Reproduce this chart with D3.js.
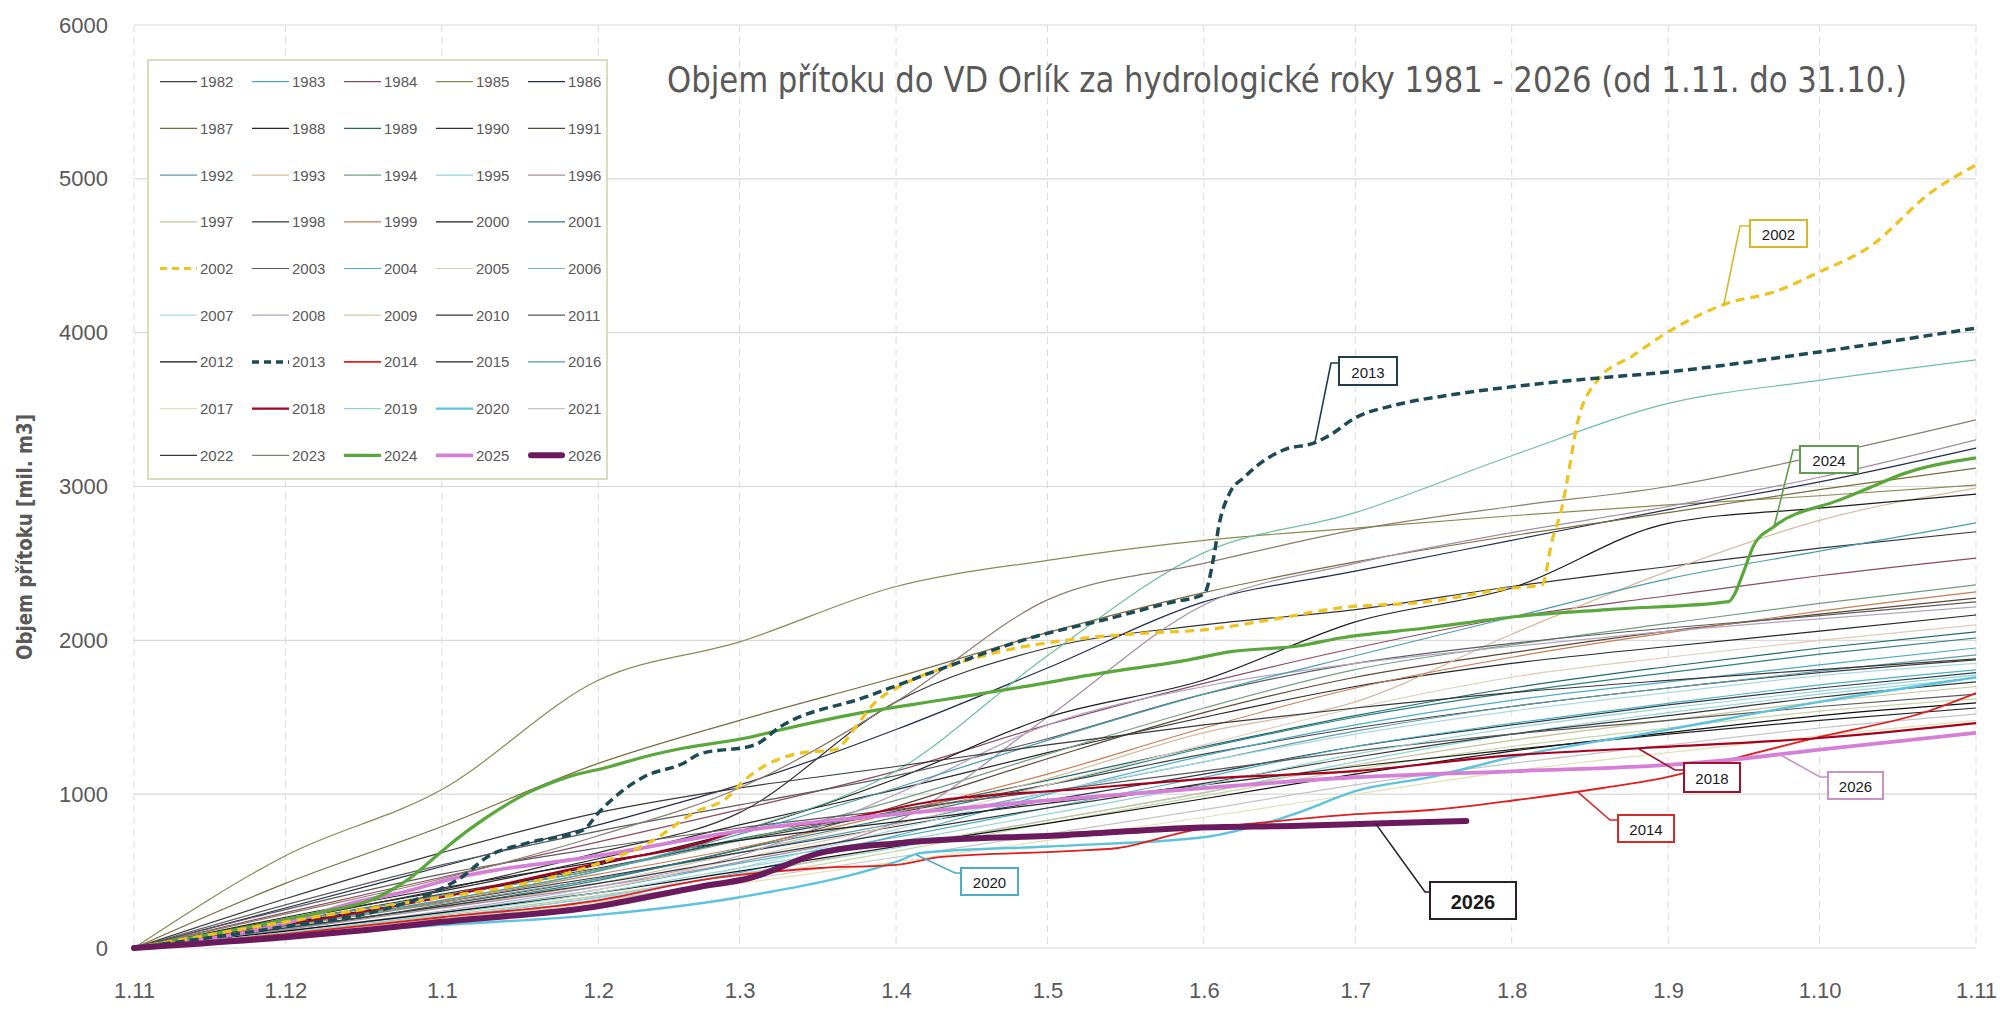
<!DOCTYPE html>
<html>
<head>
<meta charset="utf-8">
<script src="https://cdn.jsdelivr.net/npm/d3@7"></script>
<style>
  body { margin: 0; background: #ffffff; }
  svg { display: block; }
</style>
</head>
<body>
<svg id="orlik-chart"></svg>
<script>
/*--------------------------------------------------------------------------------
----- DATA (cumulative inflow in mil. m3, hydrological year 1.11. - 31.10.)
--------------------------------------------------------------------------------*/

// First day of every month of the hydrological year, and their axis labels
const month_starts = ["2000-11-01", "2000-12-01", "2001-01-01", "2001-02-01", "2001-03-01", "2001-04-01",
    "2001-05-01", "2001-06-01", "2001-07-01", "2001-08-01", "2001-09-01", "2001-10-01", "2001-11-01"];
const month_labels = ["1.11", "1.12", "1.1", "1.2", "1.3", "1.4", "1.5", "1.6", "1.7", "1.8", "1.9", "1.10", "1.11"];
const y_ticks = [0, 1000, 2000, 3000, 4000, 5000, 6000];

// Background years, one value per month start
const v1982 = [0, 170, 350, 520, 700, 880, 1060, 1260, 1430, 1570, 1690, 1790, 1873];
const v1983 = [0, 90, 200, 330, 490, 730, 1000, 1250, 1450, 1610, 1730, 1840, 1950];
const v1984 = [0, 230, 460, 690, 900, 1150, 1450, 1720, 1950, 2150, 2290, 2420, 2535];
const v1985 = [0, 600, 1030, 1740, 1990, 2350, 2520, 2650, 2730, 2810, 2880, 2940, 3010];
const v1986 = [0, 260, 530, 800, 1060, 1420, 1820, 2250, 2450, 2650, 2850, 3030, 3250];
const v1987 = [0, 420, 790, 1200, 1480, 1760, 2050, 2310, 2510, 2680, 2830, 2980, 3120];
const v1988 = [0, 190, 370, 580, 800, 1030, 1270, 1500, 1700, 1850, 1960, 2060, 2165];
const v1989 = [0, 170, 340, 510, 710, 890, 1090, 1310, 1510, 1690, 1830, 1950, 2055];
const v1990 = [0, 180, 380, 620, 880, 1600, 1950, 2100, 2200, 2350, 2480, 2600, 2706];
const v1991 = [0, 120, 280, 450, 640, 920, 1230, 1530, 1760, 1920, 2060, 2170, 2275];
const v1992 = [0, 140, 290, 450, 620, 810, 1010, 1210, 1410, 1570, 1690, 1800, 1905];
const v1993 = [0, 120, 260, 420, 620, 850, 1100, 1400, 1600, 2040, 2450, 2780, 2990];
const v1994 = [0, 170, 340, 510, 700, 960, 1260, 1560, 1810, 1970, 2110, 2240, 2360];
const v1995 = [0, 90, 200, 330, 480, 650, 830, 1010, 1210, 1390, 1530, 1650, 1755];
const v1996 = [0, 120, 260, 400, 560, 820, 1500, 2230, 2500, 2700, 2870, 3060, 3303];
const v1997 = [0, 100, 210, 340, 480, 660, 830, 1010, 1190, 1350, 1480, 1600, 1700];
const v1998 = [0, 150, 300, 460, 620, 790, 960, 1130, 1310, 1450, 1580, 1690, 1790];
const v1999 = [0, 140, 300, 480, 650, 880, 1130, 1430, 1690, 1890, 2050, 2190, 2315];
const v2000 = [0, 160, 330, 540, 760, 1100, 1500, 1742, 2120, 2340, 2760, 2860, 2950];
const v2001 = [0, 130, 270, 440, 640, 850, 1060, 1300, 1500, 1660, 1790, 1910, 2015];
const v2003 = [0, 280, 540, 760, 930, 1120, 1360, 1650, 1850, 1980, 2080, 2160, 2250];
const v2004 = [0, 110, 230, 380, 550, 720, 910, 1110, 1310, 1460, 1590, 1710, 1808];
const v2005 = [0, 100, 220, 380, 580, 800, 1060, 1320, 1560, 1760, 1890, 2000, 2100];
const v2006 = [0, 140, 310, 500, 760, 1150, 1900, 2570, 2830, 3200, 3540, 3690, 3823];
const v2007 = [0, 80, 180, 320, 520, 770, 1010, 1210, 1390, 1540, 1660, 1770, 1850];
const v2008 = [0, 110, 240, 400, 600, 1000, 1450, 1700, 1850, 1960, 2060, 2140, 2217];
const v2009 = [0, 80, 180, 300, 450, 630, 810, 990, 1160, 1310, 1430, 1540, 1620];
const v2010 = [0, 130, 270, 420, 580, 750, 910, 1070, 1240, 1390, 1510, 1630, 1730];
const v2011 = [0, 250, 480, 650, 780, 900, 1020, 1150, 1280, 1390, 1480, 1570, 1650];
const v2012 = [0, 110, 230, 360, 500, 660, 810, 970, 1130, 1280, 1400, 1510, 1593];
const v2015 = [0, 200, 390, 560, 700, 820, 940, 1060, 1180, 1290, 1390, 1480, 1560];
const v2016 = [0, 150, 310, 500, 740, 1040, 1350, 1650, 1900, 2150, 2400, 2580, 2763];
const v2017 = [0, 90, 190, 300, 420, 560, 700, 850, 1000, 1150, 1270, 1380, 1480];
const v2019 = [0, 100, 220, 360, 520, 690, 870, 1060, 1260, 1430, 1560, 1670, 1775];
const v2021 = [0, 90, 190, 310, 440, 590, 740, 900, 1060, 1200, 1320, 1430, 1520];
const v2022 = [0, 320, 620, 880, 1040, 1180, 1320, 1450, 1560, 1660, 1740, 1810, 1880];
const v2023 = [0, 220, 450, 730, 1040, 1600, 2263, 2500, 2718, 2870, 3000, 3200, 3433];

// Highlighted years, read at their own dates
const v2002 = [["2000-11-01", 0], ["2000-12-01", 170], ["2001-01-01", 330], ["2001-01-14", 397], ["2001-01-26", 488],
    ["2001-02-03", 572], ["2001-02-11", 683], ["2001-02-20", 880], ["2001-02-27", 990], ["2001-03-01", 1060],
    ["2001-03-13", 1267], ["2001-03-20", 1290], ["2001-03-24", 1437], ["2001-03-27", 1567], ["2001-04-03", 1723],
    ["2001-04-11", 1827], ["2001-04-23", 1937], ["2001-05-05", 2002], ["2001-05-21", 2048], ["2001-06-01", 2068],
    ["2001-06-14", 2133], ["2001-06-28", 2211], ["2001-07-15", 2250], ["2001-08-01", 2340], ["2001-08-07", 2360],
    ["2001-08-09", 2650], ["2001-08-11", 2870], ["2001-08-12", 3040], ["2001-08-14", 3410], ["2001-08-18", 3690],
    ["2001-08-25", 3850], ["2001-09-01", 4005], ["2001-09-13", 4194], ["2001-09-22", 4265], ["2001-10-01", 4395],
    ["2001-10-11", 4560], ["2001-10-23", 4910], ["2001-11-01", 5090]];
const v2013 = [["2000-11-01", 0], ["2000-12-01", 140], ["2000-12-20", 247], ["2000-12-30", 357], ["2001-01-05", 462],
    ["2001-01-10", 592], ["2001-01-18", 683], ["2001-01-29", 767], ["2001-02-01", 878], ["2001-02-06", 1027],
    ["2001-02-10", 1112], ["2001-02-18", 1203], ["2001-02-21", 1260], ["2001-03-04", 1320], ["2001-03-09", 1437],
    ["2001-03-26", 1632], ["2001-04-11", 1827], ["2001-04-27", 2010], ["2001-05-13", 2140], ["2001-05-25", 2243],
    ["2001-06-01", 2300], ["2001-06-03", 2550], ["2001-06-04", 2750], ["2001-06-06", 2950], ["2001-06-09", 3060],
    ["2001-06-13", 3170], ["2001-06-17", 3240], ["2001-06-23", 3285], ["2001-06-26", 3335], ["2001-07-01", 3446],
    ["2001-07-09", 3530], ["2001-07-20", 3596], ["2001-08-01", 3648], ["2001-08-14", 3693], ["2001-09-01", 3745],
    ["2001-10-01", 3875], ["2001-11-01", 4030]];
const v2014 = [["2000-11-01", 0], ["2000-12-01", 90], ["2001-01-01", 200], ["2001-02-01", 310], ["2001-02-21", 440],
    ["2001-03-17", 520], ["2001-04-01", 540], ["2001-04-10", 592], ["2001-05-05", 630], ["2001-05-15", 650],
    ["2001-05-29", 760], ["2001-06-14", 820], ["2001-07-01", 870], ["2001-07-16", 897], ["2001-08-02", 962],
    ["2001-08-19", 1040], ["2001-09-01", 1112], ["2001-09-13", 1222], ["2001-10-01", 1372], ["2001-10-22", 1534],
    ["2001-11-01", 1657]];
const v2018 = [["2000-11-01", 0], ["2000-12-01", 150], ["2001-01-01", 330], ["2001-02-01", 550], ["2001-02-21", 680],
    ["2001-03-01", 760], ["2001-03-17", 813], ["2001-04-10", 962], ["2001-05-05", 1027], ["2001-06-01", 1100],
    ["2001-07-01", 1150], ["2001-08-02", 1255], ["2001-08-27", 1300], ["2001-10-01", 1365], ["2001-11-01", 1462]];
const v2020 = [["2000-11-01", 0], ["2000-12-01", 80], ["2001-01-01", 150], ["2001-02-01", 215], ["2001-03-01", 330],
    ["2001-04-01", 560], ["2001-04-06", 618], ["2001-05-01", 660], ["2001-06-01", 720], ["2001-06-15", 830],
    ["2001-06-20", 884], ["2001-07-01", 1020], ["2001-07-16", 1112], ["2001-08-01", 1240], ["2001-09-01", 1420],
    ["2001-10-01", 1600], ["2001-11-01", 1760]];
const v2024 = [["2000-11-01", 0], ["2000-11-24", 137], ["2000-12-10", 247], ["2000-12-18", 312], ["2000-12-22", 377],
    ["2000-12-26", 462], ["2000-12-30", 572], ["2001-01-02", 657], ["2001-01-10", 852], ["2001-01-18", 1008],
    ["2001-01-26", 1112], ["2001-02-03", 1177], ["2001-02-10", 1242], ["2001-02-18", 1300], ["2001-03-03", 1370],
    ["2001-03-09", 1417], ["2001-03-25", 1528], ["2001-04-10", 1612], ["2001-04-26", 1697], ["2001-05-12", 1788],
    ["2001-05-29", 1873], ["2001-06-06", 1925], ["2001-06-20", 1965], ["2001-06-28", 2015], ["2001-07-15", 2080],
    ["2001-08-02", 2155], ["2001-08-20", 2200], ["2001-09-13", 2252], ["2001-09-14", 2290], ["2001-09-16", 2450],
    ["2001-09-18", 2620], ["2001-09-22", 2740], ["2001-10-05", 2913], ["2001-10-10", 2980], ["2001-10-18", 3087],
    ["2001-11-01", 3186]];
const v2025 = [["2000-11-01", 0], ["2000-12-01", 160], ["2000-12-14", 290], ["2000-12-26", 377], ["2001-01-02", 442],
    ["2001-02-01", 600], ["2001-03-01", 760], ["2001-04-01", 870], ["2001-05-01", 960], ["2001-06-01", 1040],
    ["2001-07-01", 1110], ["2001-08-02", 1150], ["2001-09-01", 1190], ["2001-09-13", 1222], ["2001-10-01", 1290],
    ["2001-11-01", 1398]];
const v2026 = [["2000-11-01", 0], ["2000-12-01", 70], ["2000-12-17", 117], ["2001-01-01", 170], ["2001-01-31", 267],
    ["2001-02-21", 397], ["2001-03-03", 455], ["2001-03-17", 618], ["2001-04-02", 683], ["2001-05-05", 735],
    ["2001-05-29", 780], ["2001-06-20", 795], ["2001-07-05", 810], ["2001-07-23", 826]];

// Legend years (1982 - 2026) and callout texts
const legend_years = d3.range(1982, 2027);
const callout_texts = ["2002", "2013", "2024", "2018", "2026", "2014", "2020", "2026"];
const callout_years = [2002, 2013, 2024, 2018, 2025, 2014, 2020, 2026];
const callout_dates = ["2001-09-12", "2001-06-23", "2001-09-22", "2001-08-26", "2001-09-23", "2001-08-14", "2001-04-05", "2001-07-05"];

/*--------------------------------------------------------------------------------
----- STYLES
--------------------------------------------------------------------------------*/

const year_colors = {
    1982: "#404040", 1983: "#4bacc6", 1984: "#8b4a62", 1985: "#8a8a50", 1986: "#1f2d4d",
    1987: "#7b6a3c", 1988: "#262626", 1989: "#1e6a6a", 1990: "#333333", 1991: "#5a4632",
    1992: "#5f9ea8", 1993: "#d9b99b", 1994: "#6f9f80", 1995: "#8fd4dc", 1996: "#a58ca5",
    1997: "#c4c49a", 1998: "#2b3b4b", 1999: "#c87c52", 2000: "#1a1a1a", 2001: "#2a7f7f",
    2002: "#f0c21e", 2003: "#5c5c5c", 2004: "#4cb3c4", 2005: "#e3cbb5", 2006: "#6cc19e",
    2007: "#a9d9e6", 2008: "#b3a3c3", 2009: "#c3d9a3", 2010: "#363636", 2011: "#595959",
    2012: "#111111", 2013: "#1c4a55", 2014: "#e01e1e", 2015: "#222222", 2016: "#4a9bb2",
    2017: "#e2e2b4", 2018: "#a8001e", 2019: "#93d3d3", 2020: "#5cc3dd", 2021: "#c4c4c4",
    2022: "#383838", 2023: "#8d7b6b", 2024: "#5aa83c", 2025: "#d67fd6", 2026: "#6b1a5e"
};
const year_widths = { 2002: 3.2, 2013: 3.5, 2014: 1.8, 2018: 2.2, 2020: 2.4, 2024: 3.2, 2025: 3.8, 2026: 6 };
const year_dashes = { 2002: "9,6", 2013: "9,5" };
const callout_borders = ["#d6b82a", "#1e3f4a", "#5f9e4a", "#a0122a", "#c993c9", "#d42a2a", "#4bacc6", "#2b1f2b"];

/*--------------------------------------------------------------------------------
----- CHART
--------------------------------------------------------------------------------*/

const chart_width = 2000, chart_height = 1014;
const plot = { left: 134, right: 1976, top: 25, bottom: 948 };
const parse_date = d3.timeParse("%Y-%m-%d");
const text_gray = "#595959";

const svg = d3.select("#orlik-chart")
    .attr("width", chart_width)
    .attr("height", chart_height);

const x_scale = d3.scaleTime()
    .domain([parse_date(month_starts[0]), parse_date(month_starts[month_starts.length - 1])])
    .range([plot.left, plot.right]);
const y_scale = d3.scaleLinear()
    .domain([0, 6000])
    .range([plot.bottom, plot.top]);

// Horizontal solid gridlines
svg.append("g").selectAll("line")
    .data(y_ticks)
    .join("line")
    .attr("x1", plot.left).attr("x2", plot.right)
    .attr("y1", d => y_scale(d)).attr("y2", d => y_scale(d))
    .attr("stroke", "#d9d9d9").attr("stroke-width", 1.2);

// Vertical dashed gridlines at each month start
svg.append("g").selectAll("line")
    .data(month_starts)
    .join("line")
    .attr("x1", d => x_scale(parse_date(d))).attr("x2", d => x_scale(parse_date(d)))
    .attr("y1", plot.top).attr("y2", plot.bottom)
    .attr("stroke", "#dadada").attr("stroke-width", 1).attr("stroke-dasharray", "7,5");

// Y axis tick labels
const y_axis = svg.append("g")
    .attr("transform", `translate(${plot.left}, 0)`)
    .call(d3.axisLeft(y_scale).tickValues(y_ticks).tickSize(0).tickPadding(26).tickFormat(d3.format("d")));
y_axis.select(".domain").remove();
y_axis.selectAll("text")
    .style("font-family", "'Liberation Sans', Arial, sans-serif")
    .style("font-size", "22px")
    .attr("fill", text_gray);

// X axis tick labels (1.11 ... 1.11)
const x_axis = svg.append("g")
    .attr("transform", `translate(0, ${plot.bottom})`)
    .call(d3.axisBottom(x_scale)
        .tickValues(month_starts.map(parse_date))
        .tickSize(0).tickPadding(34)
        .tickFormat((d, i) => month_labels[i]));
x_axis.select(".domain").remove();
x_axis.selectAll("text")
    .style("font-family", "'Liberation Sans', Arial, sans-serif")
    .style("font-size", "22px")
    .attr("fill", text_gray);

// Y axis title
svg.append("text")
    .attr("transform", "translate(25, 537) rotate(-90)")
    .attr("text-anchor", "middle")
    .attr("dominant-baseline", "central")
    .attr("textLength", 246)
    .attr("lengthAdjust", "spacingAndGlyphs")
    .style("font-family", "'Liberation Sans Narrow', 'DejaVu Sans Condensed', Arial, sans-serif")
    .style("font-weight", "bold")
    .style("font-size", "21px")
    .attr("fill", text_gray)
    .text("Objem přítoku [mil. m3]");

// Chart title
svg.append("text")
    .attr("x", 667).attr("y", 92)
    .attr("textLength", 1240)
    .attr("lengthAdjust", "spacingAndGlyphs")
    .style("font-family", "'Liberation Sans Narrow', 'DejaVu Sans Condensed', Arial, sans-serif")
    .style("font-size", "36px")
    .attr("fill", text_gray)
    .text("Objem přítoku do VD Orlík za hydrologické roky 1981 - 2026 (od 1.11. do 31.10.)");

// Build the series table from the small arrays
const monthly_years = [1982, 1983, 1984, 1985, 1986, 1987, 1988, 1989, 1990, 1991, 1992, 1993, 1994, 1995,
    1996, 1997, 1998, 1999, 2000, 2001, 2003, 2004, 2005, 2006, 2007, 2008, 2009, 2010, 2011, 2012, 2015,
    2016, 2017, 2019, 2021, 2022, 2023];
const monthly_values = [v1982, v1983, v1984, v1985, v1986, v1987, v1988, v1989, v1990, v1991, v1992, v1993,
    v1994, v1995, v1996, v1997, v1998, v1999, v2000, v2001, v2003, v2004, v2005, v2006, v2007, v2008, v2009,
    v2010, v2011, v2012, v2015, v2016, v2017, v2019, v2021, v2022, v2023];
const background_series = monthly_years.map((year, i) => ({
    year: year,
    points: monthly_values[i].map((v, j) => ({ date: parse_date(month_starts[j]), value: v }))
}));

const highlight_years = [2020, 2014, 2018, 2025, 2024, 2002, 2013, 2026];
const highlight_values = [v2020, v2014, v2018, v2025, v2024, v2002, v2013, v2026];
const highlight_series = highlight_years.map((year, i) => ({
    year: year,
    points: highlight_values[i].map(p => ({ date: parse_date(p[0]), value: p[1] }))
}));

const all_series = background_series.concat(highlight_series);
const series_by_year = new Map(all_series.map(s => [s.year, s]));

// Line generator
const line_gen = d3.line()
    .x(d => x_scale(d.date))
    .y(d => y_scale(d.value))
    .curve(d3.curveMonotoneX);

// Draw every year line
svg.append("g").selectAll("path")
    .data(all_series)
    .join("path")
    .attr("d", d => line_gen(d.points))
    .attr("fill", "none")
    .attr("stroke", d => year_colors[d.year])
    .attr("stroke-width", d => year_widths[d.year] || 1.2)
    .attr("stroke-dasharray", d => year_dashes[d.year] || null)
    .attr("stroke-linecap", d => d.year === 2026 ? "round" : "butt")
    .attr("stroke-linejoin", "round");

// Value of a series at a date (linear between read points)
function value_at(series, date) {
    const pts = series.points;
    for (let i = 1; i < pts.length; i++) {
        if (date <= pts[i].date) {
            const t = (date - pts[i - 1].date) / (pts[i].date - pts[i - 1].date);
            return pts[i - 1].value + t * (pts[i].value - pts[i - 1].value);
        }
    }
    return pts[pts.length - 1].value;
}

// Callout boxes: [box x, box y, box w, box h, elbow x, elbow y]
const callout_layout = [
    [1750, 220, 57, 27, 1740, 226],
    [1339, 357, 58, 28, 1331, 363],
    [1800, 446, 58, 27, 1793, 450],
    [1684, 763, 56, 29, 1675, 770],
    [1828, 772, 55, 27, 1820, 777],
    [1618, 815, 56, 27, 1610, 820],
    [961, 868, 57, 27, 955, 873],
    [1430, 882, 86, 37, 1425, 892]
];

callout_texts.forEach((label, i) => {
    const series = series_by_year.get(callout_years[i]);
    const date = parse_date(callout_dates[i]);
    const ax = x_scale(date), ay = y_scale(value_at(series, date));
    const [bx, by, bw, bh, ex, ey] = callout_layout[i];
    const is_bold = i === 7;
    const g = svg.append("g").attr("class", "callout");
    g.append("polyline")
        .attr("points", `${ax},${ay} ${ex},${ey} ${bx},${ey}`)
        .attr("fill", "none")
        .attr("stroke", callout_borders[i])
        .attr("stroke-width", 1.6);
    g.append("rect")
        .attr("x", bx).attr("y", by).attr("width", bw).attr("height", bh)
        .attr("fill", "#ffffff")
        .attr("stroke", callout_borders[i])
        .attr("stroke-width", 2);
    g.append("text")
        .attr("x", bx + bw / 2).attr("y", by + bh / 2 + 1)
        .attr("text-anchor", "middle")
        .attr("dominant-baseline", "central")
        .style("font-family", "'Liberation Sans', Arial, sans-serif")
        .style("font-size", is_bold ? "20px" : "15px")
        .style("font-weight", is_bold ? "bold" : "normal")
        .attr("fill", "#1a1a1a")
        .text(label);
});

// Legend box
const legend = svg.append("g").attr("class", "legend");
legend.append("rect")
    .attr("x", 148).attr("y", 60).attr("width", 459).attr("height", 419)
    .attr("fill", "#ffffff")
    .attr("stroke", "#c9d3a6")
    .attr("stroke-width", 1.5);

const legend_items = legend.selectAll(".legend-item")
    .data(legend_years)
    .join("g")
    .attr("class", "legend-item")
    .attr("transform", (d, i) => `translate(${160 + 92 * (i % 5)}, ${81.7 + 46.7 * Math.floor(i / 5)})`);

legend_items.append("line")
    .attr("x1", d => d === 2026 ? 3 : 0).attr("x2", d => d === 2026 ? 34 : 37)
    .attr("y1", 0).attr("y2", 0)
    .attr("stroke", d => year_colors[d])
    .attr("stroke-width", d => year_widths[d] || 1.2)
    .attr("stroke-dasharray", d => year_dashes[d] ? "7,5" : null)
    .attr("stroke-linecap", d => d === 2026 ? "round" : "butt");

legend_items.append("text")
    .attr("x", 40).attr("y", 0)
    .attr("dominant-baseline", "central")
    .style("font-family", "'Liberation Sans', Arial, sans-serif")
    .style("font-size", "15px")
    .attr("fill", text_gray)
    .text(d => d);
</script>
</body>
</html>
